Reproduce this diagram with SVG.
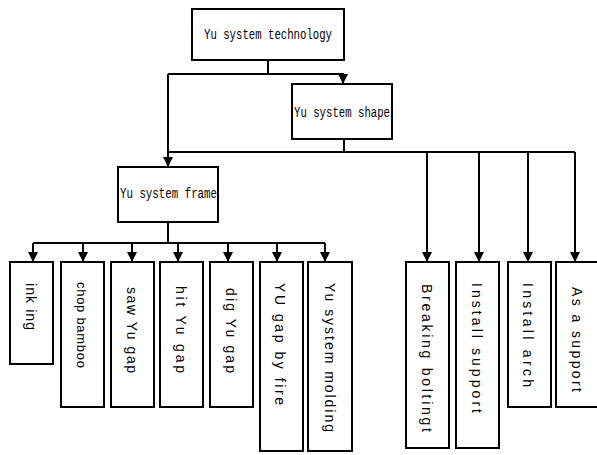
<svg xmlns="http://www.w3.org/2000/svg" width="597" height="455" viewBox="0 0 597 455">
<defs>
<marker id="ah" markerUnits="userSpaceOnUse" markerWidth="10" markerHeight="10" refX="10" refY="5" orient="auto" viewBox="0 0 10 10">
<path d="M0,0 L10,5 L0,10 Z" fill="#000"/>
</marker>
</defs>
<style>
rect{fill:#fff;stroke:#000;stroke-width:2}
.c path{fill:none;stroke:#000;stroke-width:2}
.h{font-family:"Liberation Mono","DejaVu Sans Mono",monospace;font-size:14px;fill:#000}
.v{font-family:"Liberation Sans",Arial,sans-serif;font-size:14px;fill:#000}
</style>
<rect x="0" y="0" width="597" height="455" style="fill:#fff;stroke:none"/>
<g class="c">
<path d="M268,60 V74"/>
<path d="M168,74 H343 V84" marker-end="url(#ah)"/>
<path d="M168,74 V167" marker-end="url(#ah)"/>
<path d="M344,139 V152"/>
<path d="M168,152 H575"/>
<path d="M427,152 V262" marker-end="url(#ah)"/>
<path d="M479,152 V262" marker-end="url(#ah)"/>
<path d="M528,152 V262" marker-end="url(#ah)"/>
<path d="M575,152 V262" marker-end="url(#ah)"/>
<path d="M168,222 V243"/>
<path d="M33,243 H325"/>
<path d="M33,243 V262" marker-end="url(#ah)"/>
<path d="M83,243 V262" marker-end="url(#ah)"/>
<path d="M132,243 V262" marker-end="url(#ah)"/>
<path d="M178,243 V262" marker-end="url(#ah)"/>
<path d="M228,243 V262" marker-end="url(#ah)"/>
<path d="M277,243 V262" marker-end="url(#ah)"/>
<path d="M325,243 V262" marker-end="url(#ah)"/>
</g>
<g id="tech"><rect x="192" y="9" width="152" height="51"/><text class="h" x="204" y="39" textLength="128" lengthAdjust="spacingAndGlyphs">Yu system technology</text></g>
<g id="shape"><rect x="292" y="84" width="100" height="55"/><text class="h" x="294" y="117" textLength="96" lengthAdjust="spacingAndGlyphs">Yu system shape</text></g>
<g id="frame"><rect x="118" y="167" width="100" height="55"/><text class="h" x="120" y="198" textLength="97" lengthAdjust="spacingAndGlyphs">Yu system frame</text></g>
<g id="inking"><rect x="10" y="262" width="43" height="102"/><text class="v" transform="translate(26,283) rotate(90)" textLength="47" lengthAdjust="spacing">ink ing</text></g>
<g id="chop"><rect x="61" y="262" width="43" height="145"/><text class="v" transform="translate(77,282) rotate(90)" style="font-size:13px" textLength="86" lengthAdjust="spacing">chop bamboo</text></g>
<g id="saw"><rect x="111" y="262" width="43" height="145"/><text class="v" transform="translate(127,287) rotate(90)" textLength="86" lengthAdjust="spacing">saw Yu gap</text></g>
<g id="hit"><rect x="160" y="262" width="43" height="145"/><text class="v" transform="translate(176,286) rotate(90)" textLength="87" lengthAdjust="spacing">hit Yu gap</text></g>
<g id="dig"><rect x="210" y="262" width="43" height="145"/><text class="v" transform="translate(226,288) rotate(90)" textLength="85" lengthAdjust="spacing">dig Yu gap</text></g>
<g id="fire"><rect x="260" y="262" width="43" height="189"/><text class="v" transform="translate(275,283) rotate(90)" textLength="122" lengthAdjust="spacing">YU gap by fire</text></g>
<g id="molding"><rect x="308" y="262" width="44" height="189"/><text class="v" transform="translate(325,283) rotate(90)" textLength="149" lengthAdjust="spacing">Yu system molding</text></g>
<g id="bolting"><rect x="406" y="262" width="43" height="186"/><text class="v" transform="translate(422,284) rotate(90)" textLength="148" lengthAdjust="spacing">Breaking boltingt</text></g>
<g id="support"><rect x="456" y="262" width="43" height="186"/><text class="v" transform="translate(472,283) rotate(90)" textLength="130" lengthAdjust="spacing">Install support</text></g>
<g id="arch"><rect x="508" y="262" width="43" height="145"/><text class="v" transform="translate(523,283) rotate(90)" textLength="104" lengthAdjust="spacing">Install arch</text></g>
<g id="asupport"><rect x="556" y="262" width="43" height="145"/><text class="v" transform="translate(572,287) rotate(90)" textLength="105" lengthAdjust="spacing">As a support</text></g>
</svg>
